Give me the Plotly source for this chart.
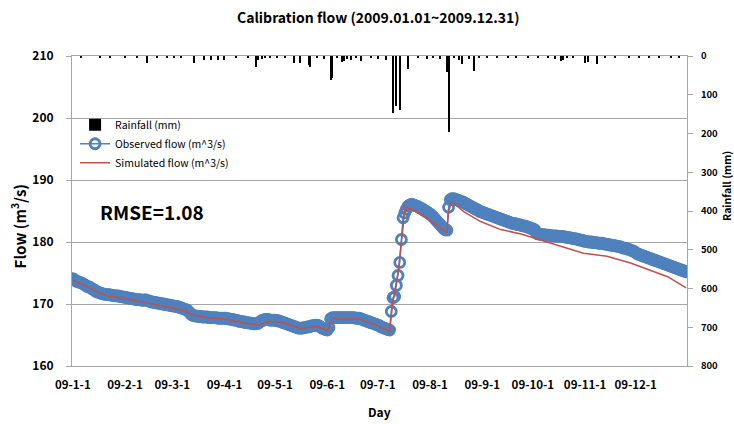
import datetime as dt
import plotly.graph_objects as go

# ---------------- data ----------------
start_date = "2009-01-01"
month_ticks = ["2009-01-01", "2009-02-01", "2009-03-01", "2009-04-01", "2009-05-01", "2009-06-01",
               "2009-07-01", "2009-08-01", "2009-09-01", "2009-10-01", "2009-11-01", "2009-12-01"]
month_labels = ["09-1-1", "09-2-1", "09-3-1", "09-4-1", "09-5-1", "09-6-1",
                "09-7-1", "09-8-1", "09-9-1", "09-10-1", "09-11-1", "09-12-1"]

observed_jan = [174.1, 173.9, 173.7, 173.6, 173.5, 173.4, 173.3, 173.1, 172.9, 172.8, 172.7, 172.5, 172.4,
                172.2, 172.0, 171.9, 171.8, 171.7, 171.6, 171.6, 171.5, 171.5, 171.5, 171.4, 171.4, 171.3,
                171.3, 171.3, 171.2, 171.2, 171.1]
observed_feb = [171.1, 171.0, 171.0, 170.9, 170.9, 170.8, 170.8, 170.7, 170.7, 170.7, 170.6, 170.6, 170.7,
                170.6, 170.5, 170.4, 170.3, 170.3, 170.2, 170.2, 170.1, 170.1, 170.0, 170.0, 169.9, 169.9,
                169.8, 169.8]
observed_mar = [169.7, 169.7, 169.6, 169.6, 169.5, 169.4, 169.3, 169.2, 169.1, 169.0, 168.7, 168.4, 168.2,
                168.1, 168.1, 168.0, 168.0, 168.0, 167.9, 167.9, 167.9, 167.9, 167.8, 167.8, 167.8, 167.8,
                167.8, 167.7, 167.7, 167.7, 167.7]
observed_apr = [167.7, 167.7, 167.6, 167.6, 167.5, 167.5, 167.4, 167.4, 167.3, 167.2, 167.2, 167.1, 167.1,
                167.0, 167.0, 166.9, 166.9, 166.8, 166.8, 166.8, 166.9, 167.1, 167.3, 167.4, 167.5, 167.5,
                167.5, 167.4, 167.4, 167.4]
observed_may = [167.4, 167.3, 167.3, 167.2, 167.1, 167.0, 166.9, 166.8, 166.7, 166.6, 166.5, 166.4, 166.3,
                166.2, 166.1, 166.1, 166.1, 166.2, 166.2, 166.3, 166.3, 166.4, 166.5, 166.5, 166.6, 166.6,
                166.5, 166.3, 166.1, 166.0, 165.9]
observed_jun = [165.8, 166.2, 167.6, 167.8, 167.8, 167.8, 167.8, 167.8, 167.8, 167.8, 167.8, 167.8, 167.8,
                167.8, 167.8, 167.8, 167.8, 167.7, 167.7, 167.7, 167.6, 167.5, 167.4, 167.3, 167.2, 167.1,
                167.0, 166.9, 166.8, 166.7]
observed_jul = [166.6, 166.5, 166.3, 166.2, 166.1, 166.0, 165.9, 165.8, 168.8, 171.0, 171.2, 173.0, 174.6,
                176.7, 180.4, 183.9, 184.7, 185.3, 185.8, 186.0, 186.1, 186.0, 185.9, 185.8, 185.7, 185.5,
                185.4, 185.2, 185.0, 184.9, 184.7]
observed_aug = [184.5, 184.3, 184.0, 183.7, 183.4, 183.1, 182.8, 182.5, 182.2, 182.0, 181.9, 185.6, 186.8,
                187.0, 187.0, 186.9, 186.8, 186.7, 186.6, 186.5, 186.4, 186.2, 186.1, 185.9, 185.8, 185.6,
                185.5, 185.3, 185.2, 185.0, 184.9]
observed_sep = [184.8, 184.7, 184.6, 184.5, 184.4, 184.3, 184.2, 184.1, 184.0, 183.9, 183.8, 183.7, 183.6,
                183.5, 183.4, 183.3, 183.2, 183.1, 183.0, 183.0, 182.9, 182.8, 182.8, 182.7, 182.6, 182.6,
                182.5, 182.4, 182.3, 182.2]
observed_oct = [182.1, 182.0, 181.5, 181.3, 181.3, 181.2, 181.2, 181.2, 181.1, 181.1, 181.1, 181.0, 181.0,
                181.0, 181.0, 180.9, 180.9, 180.9, 180.9, 180.8, 180.8, 180.7, 180.7, 180.6, 180.6, 180.5,
                180.5, 180.4, 180.3, 180.3, 180.2]
observed_nov = [180.1, 180.1, 180.0, 180.0, 180.0, 179.9, 179.9, 179.9, 179.8, 179.8, 179.8, 179.7, 179.7,
                179.6, 179.6, 179.5, 179.5, 179.4, 179.4, 179.3, 179.3, 179.2, 179.1, 179.0, 179.0, 178.9,
                178.8, 178.7, 178.6, 178.5]
observed_dec = [178.3, 178.1, 178.0, 177.9, 177.8, 177.7, 177.6, 177.5, 177.4, 177.3, 177.2, 177.1, 177.0,
                176.9, 176.8, 176.7, 176.6, 176.5, 176.4, 176.3, 176.2, 176.1, 176.0, 175.9, 175.8, 175.7,
                175.6, 175.5, 175.4, 175.3, 175.2]

# simulated flow: day of year (0 = Jan 1) and value
sim_day = [0, 7, 14, 21, 28, 35, 45, 55, 65, 72, 80, 90, 100, 110, 116, 124, 135, 145, 151, 154, 170,
           180, 188, 190, 193, 196, 197, 202, 212, 222, 223, 225, 232, 242, 254, 266, 278, 292, 303, 317,
           331, 341, 353, 364]
sim_flow = [173.8, 173.0, 172.0, 171.3, 171.0, 170.6, 170.1, 169.6, 169.0, 168.2, 167.8, 167.6, 167.0,
            166.6, 167.2, 167.1, 166.0, 166.4, 165.7, 167.6, 167.6, 166.6, 165.6, 170.5, 175.0, 182.5,
            185.6, 185.2, 183.5, 181.5, 185.0, 186.5, 184.9, 183.3, 182.0, 181.3, 180.3, 179.1, 178.2,
            177.7, 176.6, 175.6, 174.4, 172.6]

# rainfall: day of year (0 = Jan 1) and mm
rain_day = [5, 16, 22, 31, 38, 44, 50, 56, 60, 64, 72, 78, 82, 86, 90, 97, 104, 109, 110, 112, 114, 117,
            121, 126, 131, 135, 140, 141, 145, 149, 153, 154, 157, 160, 161, 163, 165, 168, 171, 177, 181,
            186, 190, 192, 194, 199, 205, 210, 214, 218, 222, 223, 226, 229, 231, 235, 238, 241, 246, 252,
            258, 263, 270, 276, 282, 286, 290, 291, 293, 297, 304, 306, 311, 316, 322, 330, 336, 342, 348,
            355, 360]
rain_mm = [3, 4, 3, 5, 3, 19, 4, 6, 3, 5, 19, 10, 10, 10, 10, 4, 6, 28, 10, 8, 6, 5,
           4, 3, 19, 19, 24, 28, 5, 8, 62, 56, 6, 15, 12, 8, 10, 6, 14, 5, 8,
           10, 148, 128, 139, 34, 6, 8, 5, 8, 40, 197, 6, 10, 21, 8, 39, 6, 3, 5,
           4, 5, 4, 6, 5, 8, 12, 10, 6, 5, 19, 16, 21, 6, 5, 4, 6, 5, 6,
           4, 5]

# ---------------- build ----------------
observed = (observed_jan + observed_feb + observed_mar + observed_apr + observed_may + observed_jun +
            observed_jul + observed_aug + observed_sep + observed_oct + observed_nov + observed_dec)
base = dt.date.fromisoformat(start_date)
obs_dates = [base + dt.timedelta(days=i) for i in range(len(observed))]
sim_dates = [base + dt.timedelta(days=d) for d in sim_day]
rain_dates = [base + dt.timedelta(days=d) for d in rain_day]

FONT = "Noto Sans CJK KR"
BLUE = "#4F81BD"
RED = "#C0504D"
GRID = "#A6A6A6"

fig = go.Figure()
fig.add_trace(go.Bar(
    x=rain_dates, y=rain_mm, yaxis="y2", name="Rainfall (mm)",
    marker=dict(color="black", line=dict(width=0)), width=86400000 * 0.6,
))
fig.add_trace(go.Scatter(
    x=obs_dates, y=observed, mode="lines+markers", name="Observed flow (m^3/s)",
    line=dict(color=BLUE, width=1.5),
    marker=dict(symbol="circle-open", size=10, color=BLUE, line=dict(width=2.8)),
))
fig.add_trace(go.Scatter(
    x=sim_dates, y=sim_flow, mode="lines", name="Simulated flow (m^3/s)",
    line=dict(color=RED, width=1.5),
))

fig.update_layout(
    width=734, height=424,
    margin=dict(l=72, r=47, t=56, b=58),
    paper_bgcolor="white", plot_bgcolor="white",
    font=dict(family=FONT, color="black"),
    bargap=0,
    showlegend=True,
    legend=dict(
        x=0.005, y=0.825, xanchor="left", yanchor="top",
        bgcolor="rgba(0,0,0,0)", font=dict(size=10.5, family=FONT),
        itemwidth=30, tracegroupgap=6, traceorder="normal",
    ),
    xaxis=dict(
        type="date",
        range=["2008-12-31 12:00", "2009-12-31 12:00"],
        tickmode="array", tickvals=month_ticks, ticktext=month_labels,
        tickfont=dict(size=11.5, family=FONT, weight="bold"),
        showgrid=False, showline=True, linecolor=GRID, linewidth=1, mirror=True,
        ticks="", ticklabelstandoff=8,
        zeroline=False,
    ),
    yaxis=dict(
        range=[160, 210], dtick=10, tick0=160,
        showgrid=True, gridcolor=GRID, gridwidth=1,
        showline=True, linecolor=GRID, linewidth=1,
        ticks="outside", ticklen=5, tickcolor=GRID,
        tickfont=dict(size=12, family=FONT, weight="bold"),
        ticklabelstandoff=10, zeroline=False,
    ),
    yaxis2=dict(
        overlaying="y", side="right", range=[800, 0], dtick=100, tick0=0,
        showgrid=False, showline=True, linecolor=GRID, linewidth=1,
        ticks="outside", ticklen=5, tickcolor=GRID,
        tickfont=dict(size=9.5, family=FONT, weight="bold"),
        ticklabelstandoff=6, zeroline=False,
    ),
    annotations=[
        dict(text="Calibration flow (2009.01.01~2009.12.31)", xref="paper", yref="paper",
             x=0.4976, y=1.126, xanchor="center", yanchor="middle", showarrow=False,
             font=dict(size=14, family=FONT, weight="bold")),
        dict(text="Flow (m<sup>3</sup>/s)", xref="paper", yref="paper",
             x=-0.088, y=0.45, xanchor="center", yanchor="middle", showarrow=False, textangle=-90,
             font=dict(size=15, family=FONT, weight="bold")),
        dict(text="Rainfall (mm)", xref="paper", yref="paper",
             x=1.063, y=0.58, xanchor="center", yanchor="middle", showarrow=False, textangle=-90,
             font=dict(size=10.5, family=FONT, weight="bold")),
        dict(text="Day", xref="paper", yref="paper",
             x=0.50, y=-0.148, xanchor="center", yanchor="middle", showarrow=False,
             font=dict(size=12, family=FONT, weight="bold")),
        dict(text="RMSE=1.08", xref="paper", yref="paper",
             x=0.13, y=0.497, xanchor="center", yanchor="middle", showarrow=False,
             font=dict(size=19, family=FONT, weight="bold")),
    ],
)

fig.write_html("out.html")
